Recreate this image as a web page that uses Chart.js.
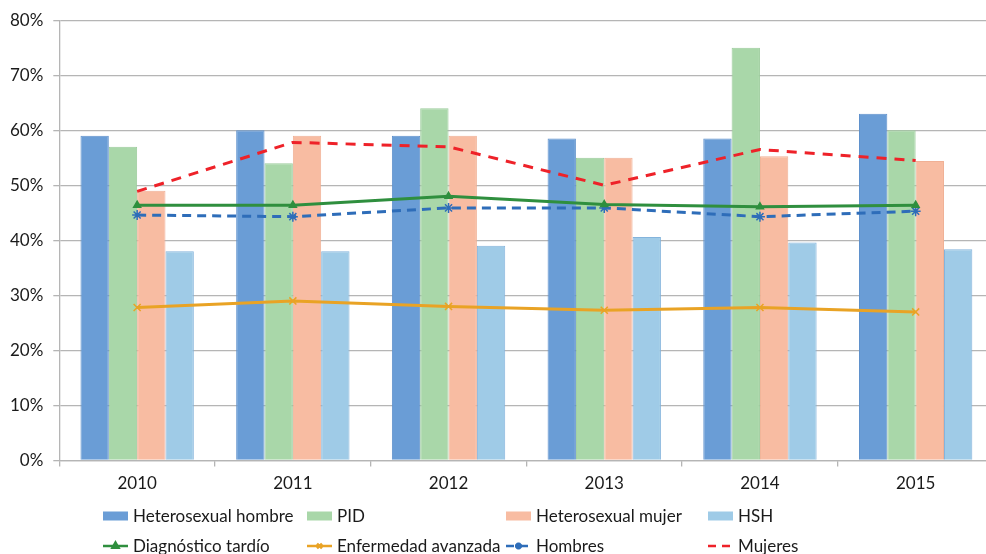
<!DOCTYPE html>
<html>
<head>
<meta charset="utf-8">
<script src="https://cdn.jsdelivr.net/npm/chart.js@4/dist/chart.umd.min.js"></script>
<style>
  html, body { margin: 0; padding: 0; background: #ffffff; overflow: hidden; }
  #wrap { width: 1000px; height: 554px; }
</style>
</head>
<body>
<div id="wrap"><canvas id="c" width="1000" height="554"></canvas></div>
<script>
// Categories (years)
const years = ['2010', '2011', '2012', '2013', '2014', '2015'];

// Bar series (%)
const heteroHombre = [59, 60, 59, 58.5, 58.5, 63];
const pid          = [57, 54, 64, 55, 75, 60];
const heteroMujer  = [49, 59, 59, 55, 55.3, 54.4];
const hsh          = [38, 38, 39, 40.6, 39.6, 38.4];

// Line series (%)
const diagTardio   = [46.4, 46.4, 48, 46.5, 46.1, 46.4];
const enfAvanzada  = [27.8, 29, 28, 27.3, 27.8, 27];
const hombres      = [44.6, 44.3, 45.9, 45.9, 44.3, 45.3];
const mujeres      = [48.9, 57.8, 57, 50, 56.5, 54.5];

// Y axis tick values
const yTicks = [0, 10, 20, 30, 40, 50, 60, 70, 80];

const FONT = 'Lato, "Open Sans", sans-serif';
const TEXT = '#1a1a1a';
const GRID = '#b5b5b5';

const bar = (label, data, fill, border) => ({
  type: 'bar', label, data,
  backgroundColor: fill, borderColor: border, borderWidth: 1,
  order: 2
});
const line = (label, data, color, dash, style, radius) => ({
  type: 'line', label, data,
  borderColor: color, backgroundColor: color,
  borderWidth: 3, borderDash: dash, tension: 0,
  pointStyle: style, pointRadius: radius, pointBorderWidth: 1.5,
  pointBorderColor: color, pointBackgroundColor: color,
  order: 1
});

const datasets = [
  bar('Heterosexual hombre', heteroHombre, '#6a9dd6', '#5f91cc'),
  bar('PID', pid, '#a9d7a9', '#9ccc9c'),
  bar('Heterosexual mujer', heteroMujer, '#f8bca2', '#f0b095'),
  bar('HSH', hsh, '#9fcbe7', '#84b4dc'),
  line('Diagnóstico tardío', diagTardio, '#2f8f3e', [], 'triangle', 4),
  line('Enfermedad avanzada', enfAvanzada, '#e9a325', [], 'crossRot', 5),
  line('Hombres', hombres, '#2e6db9', [9, 6], 'star', 5),
  line('Mujeres', mujeres, '#ee2229', [10, 8], false, 0)
];

// Legend grid: column x positions, two rows (bars, then lines)
const legendCols = [103, 307, 506, 708];
const legendRows = [516, 546];

const legendPlugin = {
  id: 'gridLegend',
  afterDraw(chart) {
    const ctx = chart.ctx;
    ctx.save();
    ctx.font = '17px ' + FONT;
    ctx.textBaseline = 'middle';
    chart.data.datasets.forEach((ds, i) => {
      const row = i < 4 ? 0 : 1;
      const x = legendCols[i % 4];
      const y = legendRows[row];
      if (ds.type === 'bar') {
        ctx.fillStyle = ds.backgroundColor;
        ctx.fillRect(x, y - 4.5, 25, 9);
      } else {
        ctx.strokeStyle = ds.borderColor;
        ctx.lineWidth = 2.5;
        ctx.setLineDash(ds.borderDash.length ? [8, 6] : []);
        ctx.beginPath();
        ctx.moveTo(x, y);
        ctx.lineTo(x + 25, y);
        ctx.stroke();
        ctx.setLineDash([]);
        if (ds.pointStyle) {
          ctx.fillStyle = ds.borderColor;
          Chart.helpers.drawPoint(ctx, {
            pointStyle: ds.pointStyle, radius: 3.5, rotation: 0,
            borderWidth: 1.2
          }, x + 12.5, y);
        }
      }
      ctx.fillStyle = TEXT;
      ctx.fillText(ds.label, x + 30, y + 1);
    });
    ctx.restore();
  }
};

new Chart(document.getElementById('c'), {
  data: { labels: years, datasets },
  options: {
    responsive: false,
    animation: false,
    layout: { padding: { left: 0, right: 4, top: 19, bottom: 0 } },
    plugins: { legend: { display: false }, tooltip: { enabled: false } },
    datasets: { bar: { categoryPercentage: 0.728, barPercentage: 1 } },
    scales: {
      x: {
        offset: true,
        grid: { display: true, offset: true, drawOnChartArea: false, drawTicks: true, tickLength: 6, color: GRID, lineWidth: 1.3 },
        border: { color: GRID, width: 1.3 },
        ticks: { color: TEXT, font: { family: FONT, size: 17 }, padding: 7 },
        afterFit(scale) { scale.height = 93.5; }
      },
      y: {
        min: 0, max: 80,
        afterBuildTicks(scale) { scale.ticks = yTicks.map(v => ({ value: v })); },
        grid: { color: GRID, lineWidth: 1.3, tickLength: 6 },
        border: { color: GRID, width: 1.3 },
        ticks: { color: TEXT, font: { family: FONT, size: 17 }, padding: 10, callback: v => v + '%' },
        afterFit(scale) { scale.width = 59.3; }
      }
    }
  },
  plugins: [legendPlugin]
});
</script>
</body>
</html>
